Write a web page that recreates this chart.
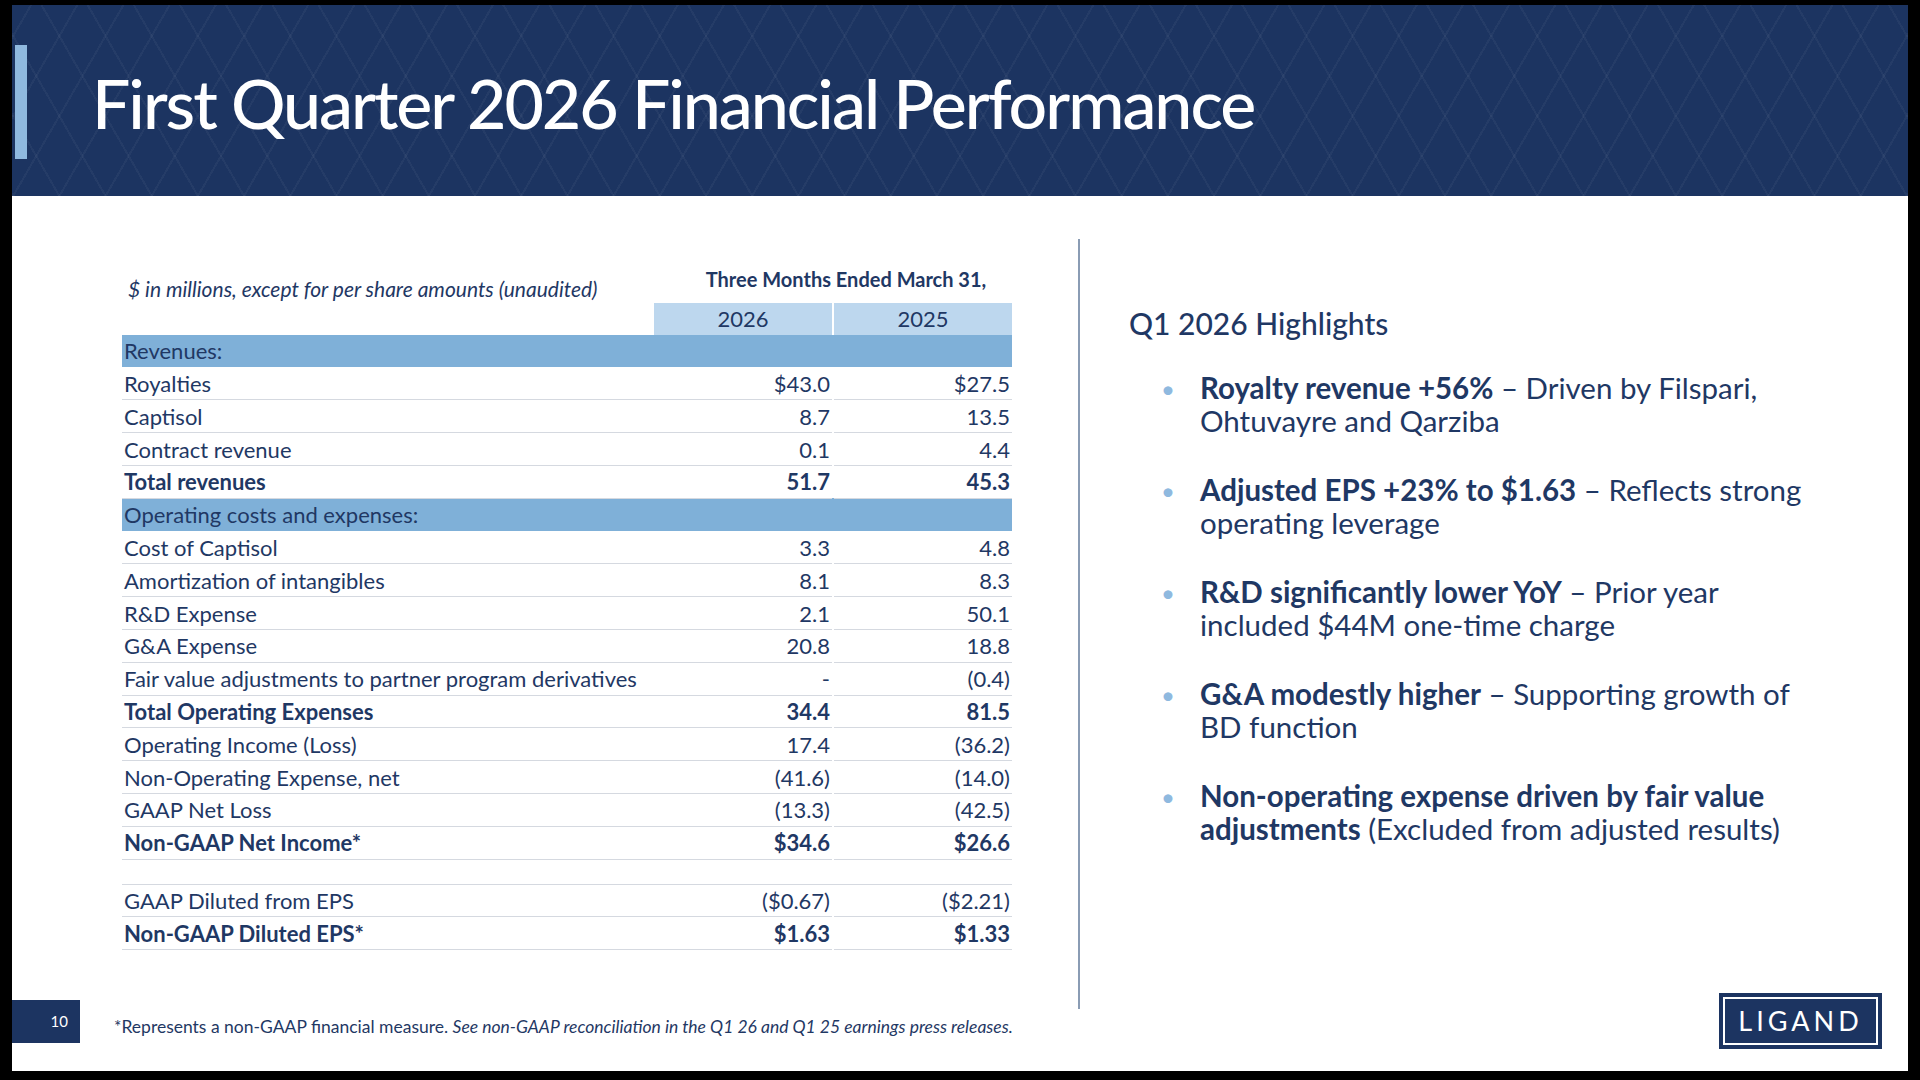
<!DOCTYPE html>
<html><head><meta charset="utf-8">
<script src="https://cdn.jsdelivr.net/npm/chart.js@4"></script>
<style>
body{margin:0;width:1920px;height:1080px;background:#000;font-family:Lato,"Noto Sans",sans-serif;overflow:hidden}
#slide{position:absolute;left:12px;top:5px;width:1896px;height:1066px;background:#fff;overflow:hidden}
#hdr{position:absolute;left:0;top:0;width:1896px;height:191px;background:#1c3461;
background-image:repeating-linear-gradient(60deg,rgba(255,255,255,0.04) 0 2px,transparent 2px 40px),repeating-linear-gradient(-60deg,rgba(255,255,255,0.04) 0 2px,transparent 2px 40px)}
#acc{position:absolute;left:3px;top:40px;width:12px;height:114px;background:#8fb9df}
#title{position:absolute;left:80px;top:57px;color:#fff;font-size:68px;letter-spacing:-2px;font-weight:500}
#sub{position:absolute;left:116px;top:271px;font-size:21px;font-style:italic;color:#1f3864}
#tm{position:absolute;left:644px;top:262px;width:380px;text-align:center;font-size:20px;color:#1f3864;font-weight:700}
table{position:absolute;left:110px;top:298px;border-collapse:collapse;font-size:22px;color:#1f3864;table-layout:fixed}
td{height:31.8px;padding:0 2px;border-bottom:1.5px solid #d5d9e0;white-space:nowrap}
td.v{text-align:right;width:174px}
td.l{width:528px}
tr.h td{background:#7fb0d8;border-bottom:1px solid #fff}
tr.yh td.v{background:#bdd7ee;text-align:center;border-bottom:none}
tr.yh td.l{border-bottom:none}
tr.b td{font-weight:700}
tr.gap td{border-bottom:1.5px solid #d5d9e0;height:24px}
td.sep{width:2px;padding:0;border-bottom:none}
#div{position:absolute;left:1066px;top:234px;width:2px;height:770px;background:#8a9cb4}
#hl{position:absolute;left:1117px;top:300px;font-size:30px;color:#1f3864;font-weight:500}
.bl{position:absolute;left:1188px;width:614px;font-size:29.5px;line-height:33px;color:#1f3864}
.bl b{font-weight:700}
.dot{position:absolute;left:1149px;color:#8fb9df;font-size:24px}
#pg{position:absolute;left:0;top:995px;width:68px;height:43px;background:#1c3461;color:#fff;font-size:15px;text-align:right;box-sizing:border-box;padding:12px 12px 0 0}
#fn{position:absolute;left:102px;top:1011px;font-size:17.5px;color:#1f3864}
#logo{position:absolute;left:1707px;top:988px;width:163px;height:56px;background:#1c3461;box-sizing:border-box;border:3px solid #1c3461;outline:2px solid #fff;outline-offset:-6px;color:#fff;font-size:27px;letter-spacing:4px;text-align:center;line-height:50px}
</style></head><body>
<div id="slide">
<div id="hdr"></div><div id="acc"></div>
<div id="title">First Quarter 2026 Financial Performance</div>
<div id="sub">$ in millions, except for per share amounts (unaudited)</div>
<div id="tm">Three Months Ended March 31,</div>
<table id="tbl"></table>
<div id="div"></div>
<div id="hl">Q1 2026 Highlights</div>
<div class="dot" style="top:369px">•</div><div class="bl" style="top:366px"><b>Royalty revenue +56%</b> – Driven by Filspari, Ohtuvayre and Qarziba</div>
<div class="dot" style="top:471px">•</div><div class="bl" style="top:468px"><b>Adjusted EPS +23% to $1.63</b> – Reflects strong operating leverage</div>
<div class="dot" style="top:573px">•</div><div class="bl" style="top:570px"><b>R&amp;D significantly lower YoY</b> – Prior year included $44M one-time charge</div>
<div class="dot" style="top:675px">•</div><div class="bl" style="top:672px"><b>G&amp;A modestly higher</b> – Supporting growth of BD function</div>
<div class="dot" style="top:777px">•</div><div class="bl" style="top:774px"><b>Non-operating expense driven by fair value adjustments</b> (Excluded from adjusted results)</div>
<div id="pg">10</div>
<div id="fn">*Represents a non-GAAP financial measure. <i>See non-GAAP reconciliation in the Q1 26 and Q1 25 earnings press releases.</i></div>
<div id="logo">LIGAND</div>
</div>
<script>
const years=["2026","2025"];
const rowLabels=["Revenues:","Royalties","Captisol","Contract revenue","Total revenues","Operating costs and expenses:","Cost of Captisol","Amortization of intangibles","R&D Expense","G&A Expense","Fair value adjustments to partner program derivatives","Total Operating Expenses","Operating Income (Loss)","Non-Operating Expense, net","GAAP Net Loss","Non-GAAP Net Income*","","GAAP Diluted from EPS","Non-GAAP Diluted EPS*"];
const values2026=["","$43.0","8.7","0.1","51.7","","3.3","8.1","2.1","20.8","-","34.4","17.4","(41.6)","(13.3)","$34.6","","($0.67)","$1.63"];
const values2025=["","$27.5","13.5","4.4","45.3","","4.8","8.3","50.1","18.8","(0.4)","81.5","(36.2)","(14.0)","(42.5)","$26.6","","($2.21)","$1.33"];
const rowKinds=["h","","","","b","h","","","","","","b","","","","b","gap","","b"];
const t=document.getElementById('tbl');
let html='<tr class="yh"><td class="l"></td><td class="v">'+years[0]+'</td><td class="sep"></td><td class="v">'+years[1]+'</td></tr>';
rowLabels.forEach((l,i)=>{html+='<tr class="'+rowKinds[i]+'"><td class="l">'+l.replace('&','&amp;')+'</td><td class="v">'+values2026[i]+'</td><td class="sep"></td><td class="v">'+values2025[i]+'</td></tr>';});
t.innerHTML=html;
</script>
</body></html>
